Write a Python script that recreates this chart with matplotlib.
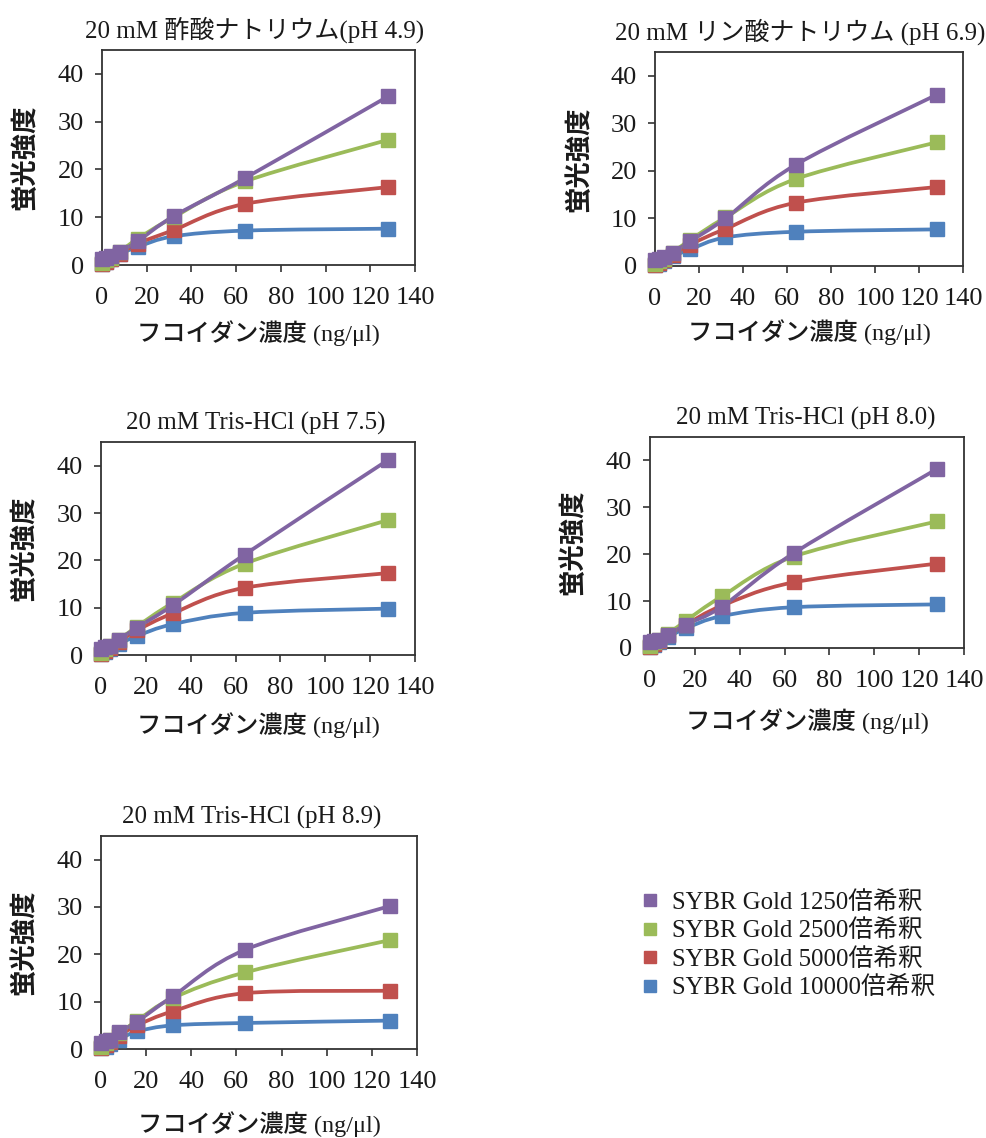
import numpy as np
import matplotlib
matplotlib.use('Agg')
import matplotlib.pyplot as plt
from matplotlib.path import Path
from matplotlib.patches import PathPatch
from matplotlib.lines import Line2D

plt.rcParams['font.family'] = ['Liberation Serif', 'Noto Sans CJK JP']

# fucoidan concentration (ng/ul)
conc = [0, 2, 4, 8, 16, 32, 64, 128]

series_names = ['SYBR Gold 1250倍希釈', 'SYBR Gold 2500倍希釈',
                'SYBR Gold 5000倍希釈', 'SYBR Gold 10000倍希釈']
colors = ['#8064A2', '#9BBB59', '#C0504D', '#4F81BD']

titles = ['20 mM 酢酸ナトリウム(pH 4.9)', '20 mM リン酸ナトリウム (pH 6.9)',
          '20 mM Tris-HCl (pH 7.5)', '20 mM Tris-HCl (pH 8.0)',
          '20 mM Tris-HCl (pH 8.9)']

# pH 4.9
ph49_1250 = [1.2, 1.5, 1.8, 2.8, 5.0, 10.2, 18.2, 35.3]
ph49_2500 = [0.5, 1.0, 1.5, 2.8, 5.5, 10.0, 17.5, 26.2]
ph49_5000 = [0.3, 0.7, 1.2, 2.3, 4.5, 7.3, 12.8, 16.3]
ph49_10000 = [0.2, 0.6, 1.2, 2.3, 3.8, 6.0, 7.2, 7.6]
# pH 6.9
ph69_1250 = [1.2, 1.5, 1.8, 2.8, 5.2, 10.0, 21.3, 36.0]
ph69_2500 = [0.5, 1.0, 1.5, 2.8, 5.5, 10.2, 18.3, 26.0]
ph69_5000 = [0.3, 0.7, 1.2, 2.3, 4.5, 7.8, 13.3, 16.6]
ph69_10000 = [0.2, 0.5, 1.0, 2.0, 3.5, 6.0, 7.2, 7.7]
# pH 7.5
ph75_1250 = [1.2, 1.6, 2.0, 3.2, 5.8, 10.5, 21.2, 41.2]
ph75_2500 = [0.5, 1.2, 1.8, 3.2, 6.0, 11.0, 19.3, 28.5]
ph75_5000 = [0.3, 0.8, 1.5, 2.8, 5.2, 8.8, 14.2, 17.3]
ph75_10000 = [0.2, 0.6, 1.2, 2.3, 4.0, 6.5, 8.9, 9.8]
# pH 8.0
ph80_1250 = [1.2, 1.5, 1.8, 2.8, 5.0, 8.8, 20.2, 38.2]
ph80_2500 = [0.5, 1.2, 1.8, 3.0, 5.8, 11.0, 19.5, 27.0]
ph80_5000 = [0.3, 0.8, 1.5, 2.8, 5.0, 9.0, 14.0, 18.0]
ph80_10000 = [0.2, 0.6, 1.2, 2.3, 4.2, 6.8, 8.7, 9.3]
# pH 8.9
ph89_1250 = [1.2, 1.6, 2.0, 3.5, 5.8, 11.2, 21.0, 30.2]
ph89_2500 = [0.5, 1.2, 1.8, 3.3, 6.0, 10.8, 16.2, 23.0]
ph89_5000 = [0.3, 0.8, 1.5, 2.8, 5.0, 8.0, 11.8, 12.3]
ph89_10000 = [0.2, 0.5, 1.0, 2.0, 3.7, 5.0, 5.5, 6.0]

panels = [
    [ph49_1250, ph49_2500, ph49_5000, ph49_10000],
    [ph69_1250, ph69_2500, ph69_5000, ph69_10000],
    [ph75_1250, ph75_2500, ph75_5000, ph75_10000],
    [ph80_1250, ph80_2500, ph80_5000, ph80_10000],
    [ph89_1250, ph89_2500, ph89_5000, ph89_10000],
]

W, H = 987, 1138
# axes boxes in pixels: left, right, top, bottom ; xlabel offset ; title centre px
boxes = [(102, 415, 50, 265, -0.255, 255), (655, 963, 52, 266, -0.25, 800),
         (101, 415, 442, 655, -0.27, 256), (650, 964, 437, 648, -0.285, 806),
         (101, 417, 836, 1049, -0.29, 252)]


def smooth_path(x, y):
    # Excel-like smoothed line drawn as cubic Bezier segments
    p = np.column_stack([x, y]).astype(float)
    n = len(p)
    verts = [p[0]]
    codes = [Path.MOVETO]
    for i in range(n - 1):
        p0 = p[i - 1] if i > 0 else p[i]
        p3 = p[i + 2] if i + 2 < n else p[i + 1]
        c1 = p[i] + (p[i + 1] - p0) / 6
        c2 = p[i + 1] - (p3 - p[i]) / 6
        verts += [c1, c2, p[i + 1]]
        codes += [Path.CURVE4] * 3
    return Path(verts, codes)


fig = plt.figure(figsize=(W / 100, H / 100), dpi=100)
spine_c = '#333333'
txt_c = '#1a1a1a'

for box, title, data in zip(boxes, titles, panels):
    l, r, t, b, xl, tc = box
    ax = fig.add_axes([l / W, 1 - b / H, (r - l) / W, (b - t) / H])
    for vals, c in reversed(list(zip(data, colors))):
        ax.add_patch(PathPatch(smooth_path(conc, vals), fill=False,
                               edgecolor=c, lw=2.7, clip_on=False))
        ax.plot(conc, vals, ls='none', marker='s', ms=10.5, color=c,
                clip_on=False, zorder=3)
    ax.set_xlim(0, 140)
    ax.set_ylim(0, 45)
    ax.set_xticks(np.arange(0, 141, 20))
    ax.set_yticks(np.arange(0, 41, 10))
    ax.tick_params(direction='out', length=5, width=1.2, color=spine_c,
                   labelsize=19, labelcolor=txt_c)
    ax.tick_params(axis='x', pad=11)
    ax.tick_params(axis='y', pad=8)
    for s in ax.spines.values():
        s.set_color(spine_c)
        s.set_linewidth(1.3)
    ax.set_title(title, fontsize=18, pad=9, color=txt_c,
                 x=(tc - l) / (r - l))
    ax.set_xlabel('フコイダン濃度 (ng/μl)', fontsize=17.5, color=txt_c,
                  fontweight='medium')
    ax.set_ylabel('蛍光強度', fontsize=19, color=txt_c, fontweight='bold')
    ax.xaxis.set_label_coords(0.5, xl)
    ax.xaxis.label.set_va('top')
    ax.yaxis.set_label_coords(-0.205, 0.5)

handles = [Line2D([], [], ls='none', marker='s', ms=9, color=c) for c in colors]
fig.legend(handles, series_names, loc='center left',
           bbox_to_anchor=(630 / W, 1 - 945 / H), frameon=False,
           fontsize=17.8, handlelength=0.8, handletextpad=0.5,
           labelspacing=0.22, borderaxespad=0, labelcolor=txt_c)

fig.savefig('out.png', dpi=100)
